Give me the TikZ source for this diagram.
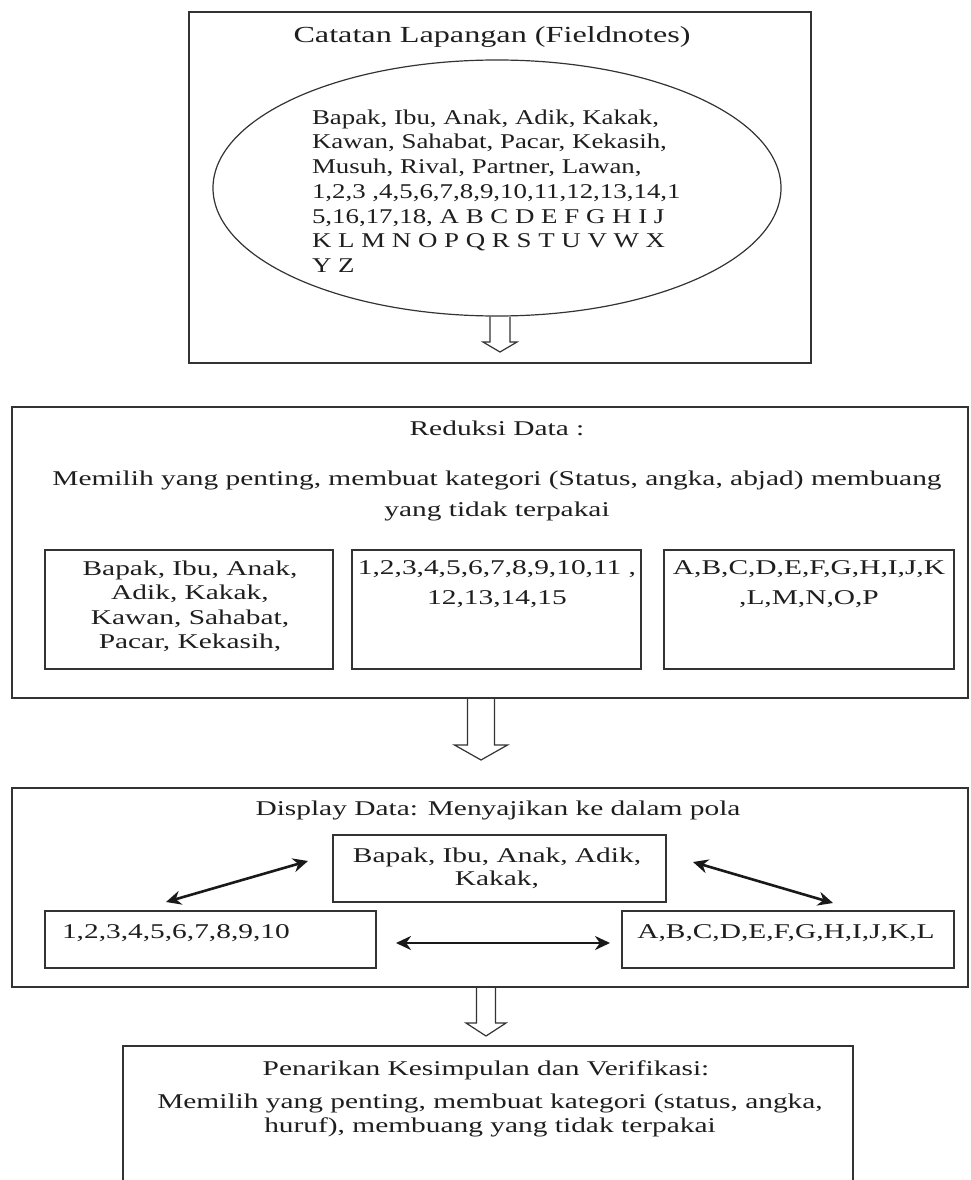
\documentclass[tikz,border=0pt]{standalone}
\usepackage{fontspec}
\setmainfont[FakeStretch=1.4]{Liberation Serif}
\newfontfamily\ellfont[FakeStretch=1.28]{Liberation Serif}
\usetikzlibrary{arrows.meta,calc,shapes.geometric}
\definecolor{linec}{HTML}{333333}
\definecolor{textc}{HTML}{1E1E1E}
% hollow block arrow: #1 start, #2 tip, #3 shaft half width, #4 head half width, #5 head length
\newcommand\hollowdown[5]{%
  \draw[hollow] let \p1=(#1), \p2=(#2) in
    (\x1-#3,\y1) -- (\x1-#3,\y2+#5) -- (\x1-#4,\y2+#5) -- (\x1,\y2)
    -- (\x1+#4,\y2+#5) -- (\x1+#3,\y2+#5) -- (\x1+#3,\y1);}
\begin{document}
\begin{tikzpicture}[x=1pt,y=-1pt,
  box/.style={draw=linec,line width=1.6pt,inner sep=0pt,outer sep=0pt},
  lbl/.style={inner sep=0pt,outer sep=0pt,text=textc,font={\fontsize{21}{24.5}\selectfont}},
  hollow/.style={draw=linec,line width=1.2pt,line join=miter},
  biarrow/.style={line width=2.6pt,draw=black!90,{Stealth[length=15pt,width=14pt]}-{Stealth[length=15pt,width=14pt]}}]
\useasboundingbox (0,0) rectangle (971,1180);
\fill[white] (0,0) rectangle (971,1180);
\clip (0,0) rectangle (971,1180);

% ---------- top block
\node[box,minimum width=622,minimum height=351] (top) at (500,187.5) {};
\node[lbl,font={\fontsize{23}{26}\selectfont},anchor=base] (toptitle) at (492,43) {Catatan Lapangan (Fieldnotes)};
\node[draw=linec,line width=1.2pt,ellipse,minimum width=568,minimum height=256,inner sep=0pt] (ell) at (497,188) {};
\node[lbl,font={\ellfont\fontsize{21}{24.7}\selectfont},align=left,anchor=north west] (elltext) at (312,109.7)
 {Bapak, Ibu, Anak, Adik, Kakak,\\
  Kawan, Sahabat, Pacar, Kekasih,\\
  Musuh, Rival, Partner, Lawan,\\
  1,2,3 ,4,5,6,7,8,9,10,11,12,13,14,1\\
  5,16,17,18, A B C D E F G H I J\\
  K L M N O P Q R S T U V W X\\
  Y Z};

% ---------- reduksi block
\node[box,minimum width=956,minimum height=291] (red) at (490,552.5) {};
\node[lbl,anchor=base] (redtitle) at (497,435) {Reduksi Data :};
\node[lbl,font={\fontsize{21}{31}\selectfont},align=center,anchor=north] (redtext) at (497,470.5)
 {Memilih yang penting, membuat kategori (Status, angka, abjad) membuang\\yang tidak terpakai};
\node[box,minimum width=288,minimum height=119] (s1) at (189,609.5) {};
\node[box,minimum width=289,minimum height=119] (s2) at (496.5,609.5) {};
\node[box,minimum width=290,minimum height=119] (s3) at (809,609.5) {};
\node[lbl,align=center,anchor=north] (s1t) at (190,560.5)
 {Bapak, Ibu, Anak,\\Adik, Kakak,\\Kawan, Sahabat,\\Pacar, Kekasih,};
\node[lbl,font={\fontsize{21}{30}\selectfont},align=center,anchor=north] (s2t) at (497,560.5)
 {1,2,3,4,5,6,7,8,9,10,11 ,\\12,13,14,15};
\node[lbl,font={\fontsize{21}{30}\selectfont},align=center,anchor=north] (s3t) at (809,560.5)
 {A,B,C,D,E,F,G,H,I,J,K\\,L,M,N,O,P};

% ---------- display block
\node[box,minimum width=956,minimum height=199] (disp) at (490,887.5) {};
\node[lbl,anchor=base] (disptitle) at (498,815) {Display Data: Menyajikan ke dalam pola};
\node[box,minimum width=333,minimum height=67] (cb) at (499.5,868.5) {};
\node[box,minimum width=331,minimum height=57] (lb) at (210.5,939.5) {};
\node[box,minimum width=332,minimum height=57] (rb) at (788,939.5) {};
\node[lbl,font={\fontsize{21}{23}\selectfont},align=center,anchor=north] (cbt) at (497,847.5)
 {Bapak, Ibu, Anak, Adik,\\Kakak,};
\node[lbl,anchor=base west] (lbt) at (62,938) {1,2,3,4,5,6,7,8,9,10};
\node[lbl,anchor=base] (rbt) at (786,938) {A,B,C,D,E,F,G,H,I,J,K,L};

\coordinate (d1a) at (166,902);
\coordinate (d1b) at (308,861);
\coordinate (d2a) at (693,862);
\coordinate (d2b) at (833,903);
\coordinate (d3a) at (396,943);
\coordinate (d3b) at (610,943);
\draw[biarrow] (d1a) -- (d1b);
\draw[biarrow] (d2a) -- (d2b);
\draw[biarrow] (d3a) -- (d3b);

% ---------- conclusion block
\node[box,minimum width=730,minimum height=160] (conc) at (488,1126) {};
\node[lbl,anchor=base] (conctitle) at (486,1075) {Penarikan Kesimpulan dan Verifikasi:};
\node[lbl,font={\fontsize{21}{24}\selectfont},align=center,anchor=north] (conctext) at (490,1093.5)
 {Memilih yang penting, membuat kategori (status, angka,\\huruf), membuang yang tidak terpakai};

% ---------- hollow arrows
\coordinate (h1s) at (ell.south -| 500,0);
\coordinate (h1e) at (500,352);
\coordinate (h2s) at (red.south -| 481,0);
\coordinate (h2e) at (481,760);
\coordinate (h3s) at (disp.south -| 486,0);
\coordinate (h3e) at (486,1036);
\hollowdown{h1s}{h1e}{10pt}{17pt}{10pt}
\hollowdown{h2s}{h2e}{13.5pt}{26.5pt}{15pt}
\hollowdown{h3s}{h3e}{9.5pt}{20pt}{13pt}
\end{tikzpicture}
\end{document}
